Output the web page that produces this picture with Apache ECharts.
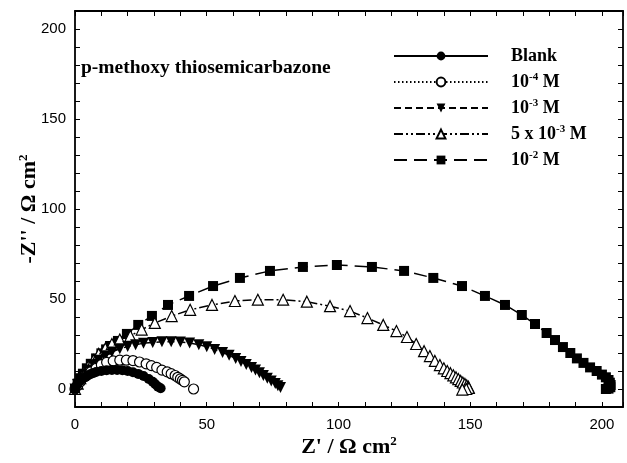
<!DOCTYPE html>
<html>
<head>
<meta charset="utf-8">
<script src="https://cdn.jsdelivr.net/npm/echarts@6/dist/echarts.min.js"></script>
<style>
  html, body { margin: 0; padding: 0; background: #fff; }
  #chart { width: 627px; height: 463px; }
</style>
</head>
<body>
<div id="chart"></div>
<script>
// Nyquist data, [Z', -Z''] in ohm cm2
const seriesNames = ['Blank', '10-4 M', '10-3 M', '5x10-3 M', '10-2 M']
const legendLabels = ['Blank', '10{s|-4} M', '10{s|-3} M', '5 x 10{s|-3} M', '10{s|-2} M']

const blankZ = [
  [0, 0], [0.5, 1.5], [1, 3], [2, 4.5], [3, 5.8], [4, 6.8], [5, 7.6], [6, 8.3], [7, 8.9],
  [8, 9.4], [10, 10], [12, 10.4], [14, 10.6], [16, 10.6], [18, 10.4], [20, 10], [22, 9.3],
  [24, 8.4], [26, 7.2], [28, 5.6], [29.5, 4], [30.5, 2.6], [31.5, 1.3], [32.5, 0.4]
]
const conc4Z = [
  [0, 0], [1, 2], [2, 4], [4, 7], [6, 9.5], [8, 11.5], [10, 13.5], [12, 14.8], [14.5, 15.6],
  [17, 16], [19.5, 16], [22, 15.8], [24.5, 15], [27, 14], [29, 13], [31, 12], [33, 10.5],
  [35, 9.5], [36.5, 8.5], [38, 7.5], [39, 6.5], [40, 5.6], [40.8, 4.8], [41.5, 4], [45, 0]
]
const conc3Z = [
  [0, 0], [1, 2.5], [2, 5], [3.5, 8], [5, 10.5], [7, 13.5], [9, 16], [11.5, 18.5], [14, 20.5],
  [17, 22.3], [20, 23.6], [23, 24.6], [26, 25.4], [29.5, 25.9], [33, 26.2], [36.5, 26.3],
  [40, 26.1], [43.5, 25.5], [47, 24.6], [50, 23.5], [53, 22], [56, 20.3], [58.5, 18.7],
  [61, 17], [63, 15.3], [65, 13.6], [67, 12], [68.5, 10.5], [70, 9], [71.5, 7.5], [73, 6],
  [74.5, 4.5], [76, 3], [77, 1.8], [78, 0.8]
]
const conc53Z = [
  [0, 0], [1, 3], [2, 6], [3.5, 9.5], [5, 12.5], [7, 16], [9, 19.5], [11.5, 22.5], [14, 25],
  [17, 27.5], [21, 29.5], [25.3, 33], [30.3, 36.7], [36.7, 40.5], [43.7, 44], [52, 46.7],
  [60.7, 48.9], [69.4, 49.6], [79, 49.6], [88, 48.5], [96.8, 46], [104.4, 43.3], [111, 39.4],
  [117, 35.6], [122, 32.2], [126, 28.9], [129.5, 25], [132.5, 21], [134.7, 18.3],
  [136.6, 15.6], [138.5, 13.3], [140, 11.5], [141.3, 10], [142.5, 8.8], [143.6, 7.6],
  [144.6, 6.5], [145.5, 5.5], [146.4, 4.5], [147.2, 3.6], [148, 2.8], [148.7, 2],
  [149.3, 1.3], [149.5, 0.6], [148.5, 0], [147, -0.3]
]
const conc2Z = [
  [0, 0], [1, 3], [2, 6], [3, 8.5], [4.5, 11.5], [6, 14], [8, 17], [10, 19.8], [11.8, 22],
  [13.3, 23.9], [16.3, 26.7], [19.7, 30.6], [24, 35.6], [29.2, 40.6], [35.3, 46.7],
  [43.3, 51.7], [52.4, 57.2], [62.6, 61.7], [74, 65.6], [86.5, 67.8], [99.4, 68.9],
  [112.7, 67.8], [124.9, 65.6], [136, 61.7], [146.9, 57.2], [155.6, 51.7], [163.2, 46.7],
  [169.6, 41.1], [174.6, 36.1], [179, 31.1], [182.2, 27.2], [185.2, 23.3], [188, 20],
  [190.5, 17], [193, 14.5], [195.5, 12], [198, 10], [200, 8], [201.5, 6.5], [202.5, 5],
  [203, 3.5], [203.3, 2.2], [203.2, 1], [202.5, 0.2], [201.5, 0]
]

const seriesData = [blankZ, conc4Z, conc3Z, conc53Z, conc2Z]
const symbols = ['circle', 'circle', 'triangle', 'triangle', 'rect']
const symbolRotations = [0, 0, 180, 0, 0]
const symbolSizes = [10, 10, 11, 11, 10]
const hollow = [false, true, false, true, false]
const dashes = ['solid', [1.5, 2.5], [7, 4], [9, 3, 2, 3, 2, 3], [13, 7]]

const xTicks = [0, 50, 100, 150, 200]
const yTicks = [0, 50, 100, 150, 200]

const serif = 'Liberation Serif'
const sans = 'Liberation Sans'
const supStyle = { fontSize: 11, fontWeight: 'bold', fontFamily: serif, color: '#000', padding: [0, 0, 9, 0] }

const chart = echarts.init(document.getElementById('chart'), null, { renderer: 'canvas' })

const series = seriesNames.map((name, i) => ({
  name: name,
  type: 'line',
  xAxisIndex: 0,
  yAxisIndex: 0,
  data: seriesData[i],
  symbol: symbols[i],
  symbolSize: symbolSizes[i],
  symbolRotate: symbolRotations[i],
  showAllSymbol: true,
  animation: false,
  color: '#000',
  lineStyle: { color: '#000', width: 1.5, type: dashes[i] },
  itemStyle: {
    color: hollow[i] ? '#fff' : '#000',
    borderColor: '#000',
    borderWidth: hollow[i] ? 1.2 : 0,
  },
  z: 10 - i,
}))

const baseAxis = {
  type: 'value',
  interval: 10,
  axisLine: { show: true, onZero: false, lineStyle: { color: '#000', width: 1.8 } },
  axisTick: { show: true, inside: true, length: 5, lineStyle: { color: '#000', width: 1 } },
  splitLine: { show: false },
}

const option = {
  backgroundColor: '#fff',
  animation: false,
  grid: { left: 75, right: 4, top: 11, bottom: 54, containLabel: false },
  title: {
    text: 'p-methoxy thiosemicarbazone',
    left: 76,
    top: 53,
    textStyle: { fontFamily: serif, fontWeight: 'bold', fontSize: 19.5, color: '#000' },
  },
  legend: {
    orient: 'vertical',
    left: 393,
    top: 46,
    padding: 0,
    itemWidth: 94,
    itemHeight: 11,
    itemGap: 6,
    data: seriesNames,
    formatter: (name) => legendLabels[seriesNames.indexOf(name)],
    textStyle: {
      fontFamily: serif, fontWeight: 'bold', fontSize: 18, color: '#000', lineHeight: 20,
      padding: [0, 0, 0, 18],
      rich: { s: supStyle },
    },
  },
  xAxis: [
    Object.assign({}, baseAxis, {
      position: 'bottom',
      min: 0,
      max: 208,
      name: "Z' / Ω cm{s|2}",
      nameLocation: 'middle',
      nameGap: 28,
      nameMoveOverlap: false,
      nameTextStyle: {
        fontFamily: serif, fontWeight: 'bold', fontSize: 22, color: '#000',
        rich: { s: Object.assign({}, supStyle, { fontSize: 13, padding: [0, 0, 11, 0] }) },
      },
      axisLabel: {
        color: '#000', fontFamily: sans, fontSize: 15, margin: 10,
        formatter: (v) => (xTicks.indexOf(v) >= 0 ? String(v) : ''),
      },
    }),
    Object.assign({}, baseAxis, {
      position: 'top',
      min: 0,
      max: 208,
      axisLabel: { show: false },
    }),
  ],
  yAxis: [
    Object.assign({}, baseAxis, {
      position: 'left',
      min: -10,
      max: 210,
      name: "-Z'' / Ω cm{s|2}",
      nameLocation: 'middle',
      nameGap: 34,
      nameMoveOverlap: false,
      nameTextStyle: {
        fontFamily: serif, fontWeight: 'bold', fontSize: 22, color: '#000',
        rich: { s: Object.assign({}, supStyle, { fontSize: 13, padding: [0, 0, 11, 0] }) },
      },
      axisLabel: {
        color: '#000', fontFamily: sans, fontSize: 15, margin: 9,
        formatter: (v) => (yTicks.indexOf(v) >= 0 ? String(v) : ''),
      },
    }),
    Object.assign({}, baseAxis, {
      position: 'right',
      min: -10,
      max: 210,
      axisLabel: { show: false },
    }),
  ],
  series: series,
}

chart.setOption(option)
</script>
</body>
</html>
